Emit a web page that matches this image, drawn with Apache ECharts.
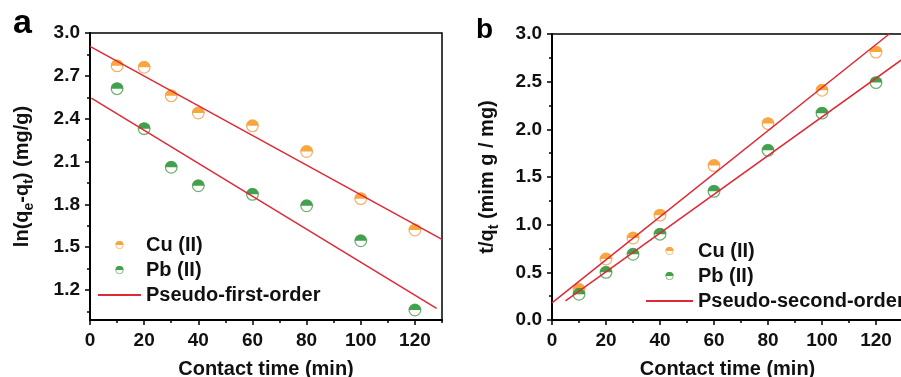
<!DOCTYPE html>
<html>
<head>
<meta charset="utf-8">
<script src="https://cdn.jsdelivr.net/npm/echarts@6/dist/echarts.min.js"></script>
<style>
  html, body { margin: 0; padding: 0; background: #fff; }
  #chart { width: 901px; height: 377px; }
</style>
</head>
<body>
<div id="chart"></div>
<script>
// contact time (min)
const timeMin = [10, 20, 30, 40, 60, 80, 100, 120];

// panel a: ln(qe-qt)
const cuFirst = [2.77, 2.76, 2.56, 2.44, 2.35, 2.17, 1.84, 1.62];
const pbFirst = [2.61, 2.33, 2.06, 1.93, 1.87, 1.79, 1.545, 1.06];
// fitted lines, end points
const cuFirstFit = [[0, 2.906], [130, 1.555]];
const pbFirstFit = [[0.5, 2.544], [128, 1.072]];

// panel b: t/qt
const cuSecond = [0.32, 0.64, 0.86, 1.10, 1.62, 2.06, 2.41, 2.81];
const pbSecond = [0.27, 0.50, 0.69, 0.90, 1.35, 1.78, 2.17, 2.49];
const cuSecondFit = [[0, 0.18], [124.9, 3.0]];
const pbSecondFit = [[5, 0.20], [130, 2.74]];

// tick labels
const xTicks = [0, 20, 40, 60, 80, 100, 120];
const xMinorTicks = [10, 30, 50, 70, 90, 110, 130];
const yTicksA = [1.2, 1.5, 1.8, 2.1, 2.4, 2.7, 3.0];
const yMinorTicksA = [1.05, 1.35, 1.65, 1.95, 2.25, 2.55, 2.85];
const yTicksB = [0, 0.5, 1.0, 1.5, 2.0, 2.5, 3.0];
const yMinorTicksB = [0.25, 0.75, 1.25, 1.75, 2.25, 2.75];

const FONT = 'Liberation Sans';
const RED = '#dd2a36';

function halfDot(fill, ring) {
  const svg = '<svg xmlns="http://www.w3.org/2000/svg" width="24" height="24" viewBox="0 0 24 24">' +
    '<circle cx="12" cy="12" r="10" fill="#ffffff" stroke="' + ring + '" stroke-width="2.2"/>' +
    '<path d="M1.5,12 A10.5,10.5 0 0 1 22.5,12 Z" fill="' + fill + '"/></svg>';
  return 'image://data:image/svg+xml;charset=utf-8,' + encodeURIComponent(svg);
}
const cuSymbol = halfDot('#f7900f', '#f29e45');
const pbSymbol = halfDot('#138a20', '#4f9a52');

function pairs(xs, ys) {
  return xs.map((x, i) => [x, ys[i]]);
}

function mainX(gridIndex) {
  return {
    gridIndex: gridIndex,
    type: 'value',
    position: 'bottom',
    min: 0,
    max: 130,
    splitLine: { show: false },
    axisLine: { lineStyle: { color: '#000', width: 2 } },
    axisTick: { show: true, customValues: xTicks, length: 5, lineStyle: { color: '#000', width: 1.5 } },
    axisLabel: {
      customValues: xTicks,
      margin: 11,
      color: '#111',
      fontFamily: FONT,
      fontWeight: 'bold',
      fontSize: 19,
    },
    name: 'Contact time (min)',
    nameLocation: 'middle',
    nameGap: 39,
    nameTextStyle: { color: '#111', fontFamily: FONT, fontWeight: 'bold', fontSize: 20 },
  };
}

function minorX(gridIndex) {
  return {
    gridIndex: gridIndex,
    type: 'value',
    position: 'bottom',
    min: 0,
    max: 130,
    splitLine: { show: false },
    axisLine: { show: true, lineStyle: { color: 'rgba(0,0,0,0)' } },
    axisTick: { show: true, customValues: xMinorTicks, length: 3, lineStyle: { color: '#000', width: 1.5 } },
    axisLabel: { show: true, customValues: [10], color: 'rgba(0,0,0,0)', formatter: () => '' },
  };
}

function mainY(gridIndex, min, max, ticks, name, gap) {
  return {
    gridIndex: gridIndex,
    type: 'value',
    position: 'left',
    min: min,
    max: max,
    splitLine: { show: false },
    axisLine: { onZero: false, lineStyle: { color: '#000', width: 2 } },
    axisTick: { show: true, customValues: ticks, length: 5, lineStyle: { color: '#000', width: 1.5 } },
    axisLabel: {
      customValues: ticks,
      margin: 10,
      color: '#111',
      fontFamily: FONT,
      fontWeight: 'bold',
      fontSize: 19,
      formatter: (v) => v.toFixed(1),
    },
    name: name,
    nameLocation: 'middle',
    nameGap: gap,
    nameTextStyle: {
      color: '#111',
      fontFamily: FONT,
      fontWeight: 'bold',
      fontSize: 20,
      lineHeight: 28,
      rich: {
        n: { fontFamily: FONT, fontWeight: 'bold', fontSize: 20, color: '#111', lineHeight: 28 },
        sub: { fontFamily: FONT, fontWeight: 'bold', fontSize: 14, color: '#111', lineHeight: 28, verticalAlign: 'bottom' },
      },
    },
  };
}

function minorY(gridIndex, min, max, ticks) {
  return {
    gridIndex: gridIndex,
    type: 'value',
    position: 'left',
    min: min,
    max: max,
    splitLine: { show: false },
    axisLine: { show: true, onZero: false, lineStyle: { color: 'rgba(0,0,0,0)' } },
    axisTick: { show: true, customValues: ticks, length: 3, lineStyle: { color: '#000', width: 1.5 } },
    axisLabel: { show: true, customValues: ticks, color: 'rgba(0,0,0,0)', formatter: () => '' },
  };
}

const legendText = { color: '#111', fontFamily: FONT, fontWeight: 'bold', fontSize: 20, lineHeight: 20 };

const option = {
  animation: false,
  backgroundColor: '#fff',
  title: [
    { text: 'a', left: 13, top: 7, padding: 0, textStyle: { fontFamily: FONT, fontWeight: 'bold', fontSize: 34, color: '#000' } },
    { text: 'b', left: 476, top: 16, padding: 0, textStyle: { fontFamily: FONT, fontWeight: 'bold', fontSize: 28, color: '#000' } },
  ],
  grid: [
    { left: 90, top: 33, width: 352, height: 287, outerBoundsMode: 'none', show: true, borderColor: '#000', borderWidth: 1.5, backgroundColor: 'transparent' },
    { left: 552, top: 34, width: 351, height: 286, outerBoundsMode: 'none', show: true, borderColor: '#000', borderWidth: 1.5, backgroundColor: 'transparent' },
  ],
  legend: [
    {
      data: ['Cu (II)', 'Pb (II)', { name: 'Pseudo-first-order', itemStyle: { opacity: 0 } }],
      orient: 'vertical',
      left: 97,
      top: 235,
      padding: 0,
      itemWidth: 43,
      itemHeight: 9,
      itemGap: 5,
      textStyle: legendText,
    },
    {
      data: ['Cu (II)', 'Pb (II)', { name: 'Pseudo-second-order', itemStyle: { opacity: 0 } }],
      orient: 'vertical',
      left: 645,
      top: 241,
      padding: 0,
      itemWidth: 47,
      itemHeight: 9,
      itemGap: 5,
      textStyle: legendText,
    },
  ],
  xAxis: [mainX(0), minorX(0), mainX(1), minorX(1)],
  yAxis: [
    mainY(0, 0.99, 3.0, yTicksA, '{n|ln(q}{sub|e}{n|-q}{sub|t}{n|) (mg/g)}', 54),
    minorY(0, 0.99, 3.0, yMinorTicksA),
    mainY(1, 0, 3.0, yTicksB, '{n|t/q}{sub|t}{n| (mim g / mg)}', 51),
    minorY(1, 0, 3.0, yMinorTicksB),
  ],
  series: [
    { name: 'Cu (II)', type: 'scatter', xAxisIndex: 0, yAxisIndex: 0, symbol: cuSymbol, symbolSize: 14, data: pairs(timeMin, cuFirst) },
    { name: 'Pb (II)', type: 'scatter', xAxisIndex: 0, yAxisIndex: 0, symbol: pbSymbol, symbolSize: 14, data: pairs(timeMin, pbFirst) },
    { name: 'Pseudo-first-order', type: 'line', xAxisIndex: 0, yAxisIndex: 0, symbol: 'none', lineStyle: { color: RED, width: 1.5 }, itemStyle: { color: RED }, data: cuFirstFit, z: 3 },
    { name: 'Pseudo-first-order', type: 'line', xAxisIndex: 0, yAxisIndex: 0, symbol: 'none', lineStyle: { color: RED, width: 1.5 }, itemStyle: { color: RED }, data: pbFirstFit, z: 3 },
    { name: 'Cu (II)', type: 'scatter', xAxisIndex: 2, yAxisIndex: 2, symbol: cuSymbol, symbolSize: 14, data: pairs(timeMin, cuSecond) },
    { name: 'Pb (II)', type: 'scatter', xAxisIndex: 2, yAxisIndex: 2, symbol: pbSymbol, symbolSize: 14, data: pairs(timeMin, pbSecond) },
    { name: 'Pseudo-second-order', type: 'line', xAxisIndex: 2, yAxisIndex: 2, symbol: 'none', lineStyle: { color: RED, width: 1.5 }, itemStyle: { color: RED }, data: cuSecondFit, z: 3 },
    { name: 'Pseudo-second-order', type: 'line', xAxisIndex: 2, yAxisIndex: 2, symbol: 'none', lineStyle: { color: RED, width: 1.5 }, itemStyle: { color: RED }, data: pbSecondFit, z: 3 },
  ],
};

const chart = echarts.init(document.getElementById('chart'));
chart.setOption(option);
</script>
</body>
</html>
